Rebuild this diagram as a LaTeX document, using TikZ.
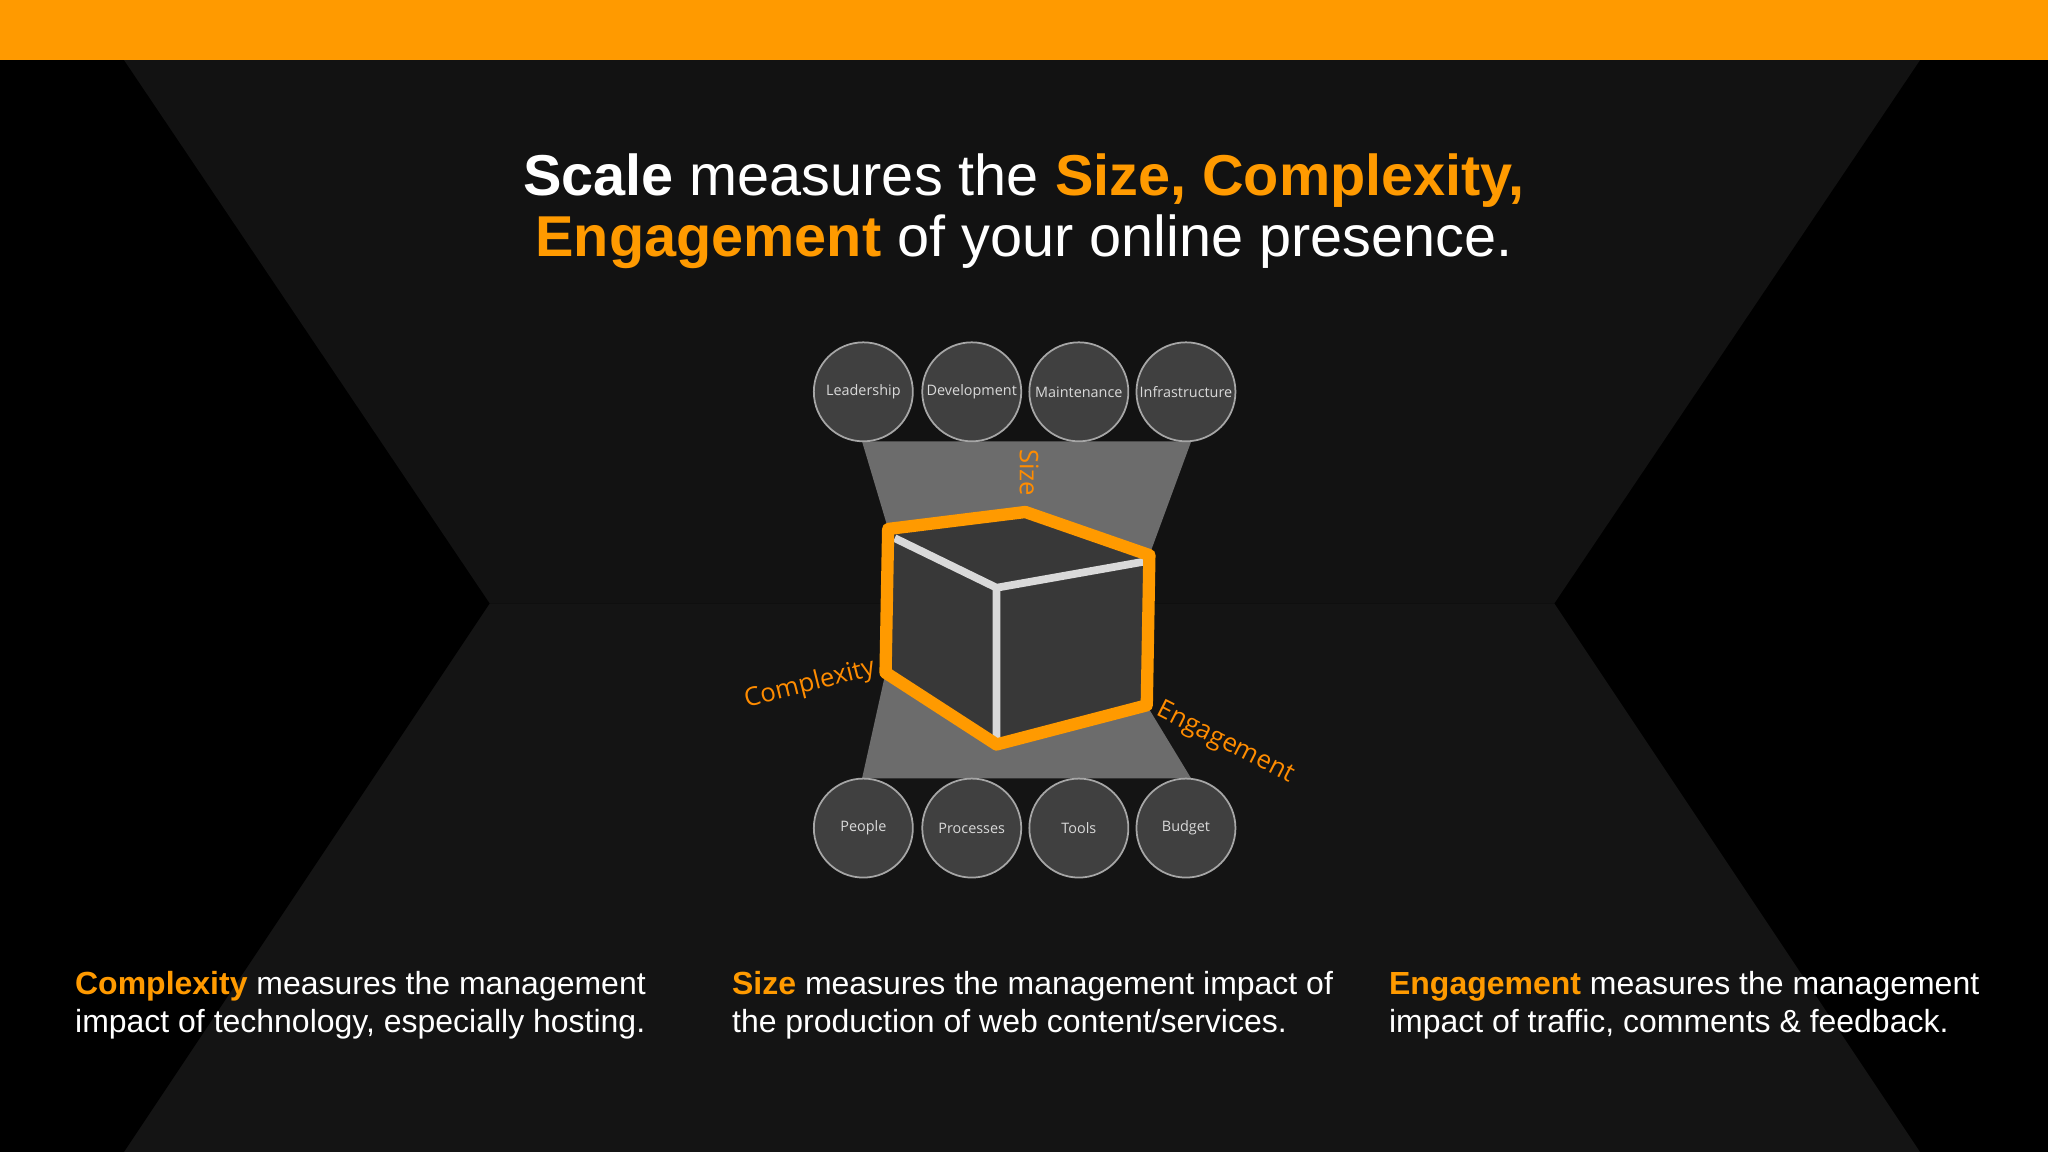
\documentclass[tikz,border=0pt]{standalone}
\usepackage{fontspec}
\setmainfont{Liberation Sans}
\newfontfamily\segoe{Open Sans}
\begin{document}
\begin{tikzpicture}[x=0.01306cm,y=-0.01306cm,
  bub/.style={circle,draw=gray!70,line width=0.5pt,fill=black!75,minimum size=0.99cm,inner sep=0pt,text=white!85!black,font=\segoe\fontsize{4.1}{5}\selectfont},
  axl/.style={text=orange!90!yellow,font=\segoe\fontsize{7.3}{8}\selectfont,inner sep=0pt},
  body/.style={text=white,font=\fontsize{9.1}{10.9}\selectfont,align=left,anchor=north west,inner sep=0pt}]
\definecolor{org}{HTML}{FF9A00}
\useasboundingbox (0,0) rectangle (1568,882);
\fill[black] (0,0) rectangle (1568,882);
\fill[black!93] (95,46) -- (1470,46) -- (1190,462) -- (375,462) -- cycle;
\fill[black!92] (375,462) -- (1190,462) -- (1470,882) -- (95,882) -- cycle;
\fill[org] (0,0) rectangle (1568,46);
% funnel
\fill[gray!85!black] (660,338) -- (912,338) -- (880,425) -- (680,405) -- cycle;
\fill[gray!85!black] (678,515) -- (763,570) -- (878,540) -- (912,596) -- (660,596) -- cycle;
% bubbles
\foreach \n/\x/\t in {a/661/Leadership,b/744/Development,c/826/Maintenance,d/908/Infrastructure}
  \node[bub] (\n) at (\x,300) {\t};
\foreach \n/\x/\t in {e/661/People,f/744/Processes,g/826/Tools,h/908/Budget}
  \node[bub] (\n) at (\x,634) {\t};
% cube
\fill[black!78] (680,405) -- (785,392) -- (880,425) -- (878,540) -- (763,570) -- (678,515) -- cycle;
\draw[white!85!black,line width=2.2pt] (685,412) -- (763,450) -- (876,430) (763,450) -- (763,565);
\draw[org,line width=3.5pt,line join=round] (680,405) -- (785,392) -- (880,425) -- (878,540) -- (763,570) -- (678,515) -- cycle;
\node[axl,rotate=-90] (s) at (788,362) {Size};
\node[axl,rotate=14] (cx) at (620,524) {Complexity};
\node[axl,rotate=-27] (en) at (938,569) {Engagement};
% title
\node[text=white,font=\fontsize{16.4}{17.4}\selectfont,align=center,inner sep=0pt] (title) at (784,162)
 {\textbf{Scale} measures the \textcolor{org}{\textbf{Size, Complexity,}}\\\textcolor{org}{\textbf{Engagement}} of your online presence.};
\node[body] (l) at (57,743) {\textcolor{org}{\textbf{Complexity}} measures the management\\impact of technology, especially hosting.};
\node[body] (m) at (560,743) {\textcolor{org}{\textbf{Size}} measures the management impact of\\the production of web content/services.};
\node[body] (r) at (1063,743) {\textcolor{org}{\textbf{Engagement}} measures the management\\impact of traffic, comments \& feedback.};
\end{tikzpicture}
\end{document}
